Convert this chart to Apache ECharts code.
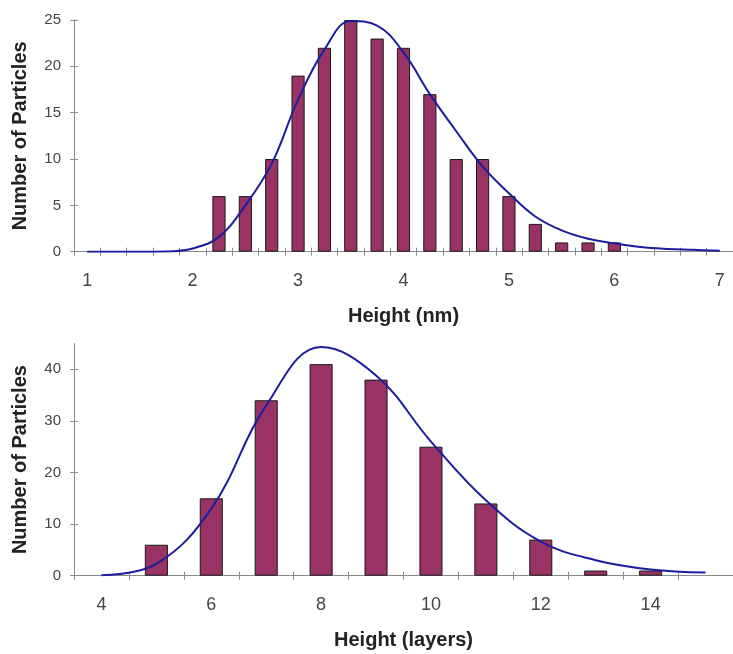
<!DOCTYPE html>
<html>
<head>
<meta charset="utf-8">
<script src="https://cdn.jsdelivr.net/npm/echarts@6/dist/echarts.min.js"></script>
<style>
html,body{margin:0;padding:0;background:#fff;}
#chart{width:733px;height:654px;}
</style>
</head>
<body>
<div id="chart"></div>
<script>
// ---- Data ----
const topCategories = ['1','1.25','1.5','1.75','2','2.25','2.5','2.75','3','3.25','3.5','3.75','4','4.25','4.5','4.75','5','5.25','5.5','5.75','6','6.25','6.5','6.75','7'];
const topCounts = [0,0,0,0,0,6,6,10,19,22,25,23,22,17,10,10,6,3,1,1,1,0,0,0,0];
const topFit = [0,0,0,0.02,0.35,1.6,5.0,9.5,16.4,21.8,24.9,24.4,21.5,17.0,13.0,9.2,6.3,3.8,2.3,1.4,0.9,0.5,0.3,0.2,0.1];
const topYTicks = [0,5,10,15,20,25];

const bottomCategories = ['4','5','6','7','8','9','10','11','12','13','14','15'];
const bottomCounts = [0,6,15,34,41,38,25,14,7,1,1,0];
const bottomFit = [0.1,2.3,13.0,33.0,44.3,38.8,26.0,14.6,6.6,3.0,1.2,0.6];
const bottomYTicks = [0,10,20,30,40];

const topXTitle = 'Height (nm)';
const bottomXTitle = 'Height (layers)';
const yTitle = 'Number of Particles';

// ---- Styles ----
const FONT = "'Liberation Sans', Arial, sans-serif";
const AXIS_COLOR = '#8a8a8a';
const LABEL_COLOR = '#454545';
const TITLE_COLOR = '#222222';
const BAR_COLOR = '#993366';
const LINE_COLOR = '#1c1c9e';

const hideZero = arr => arr.map(v => (v === 0 ? null : v));

function xMain(grid, data, interval, name) {
  return {
    gridIndex: grid, type: 'category', data: data, boundaryGap: true, position: 'bottom',
    axisLine: { show: true, lineStyle: { color: AXIS_COLOR, width: 1 } },
    axisTick: { show: true, interval: 0, alignWithLabel: false, length: 4, inside: false, lineStyle: { color: AXIS_COLOR } },
    axisLabel: { interval: interval, fontSize: 18, color: LABEL_COLOR, fontFamily: FONT, margin: 20 },
    splitLine: { show: false },
    name: name, nameLocation: 'middle', nameGap: 55,
    nameTextStyle: { fontSize: 20, fontWeight: 'bold', color: TITLE_COLOR, fontFamily: FONT }
  };
}
function xHelper(grid, data) {
  return {
    gridIndex: grid, type: 'category', data: data, boundaryGap: true, position: 'bottom', offset: 0,
    axisLine: { show: false },
    axisTick: { show: true, interval: 0, alignWithLabel: false, length: 4, inside: true, lineStyle: { color: AXIS_COLOR } },
    axisLabel: { show: false }, splitLine: { show: false }
  };
}
function yMain(grid, max, ticks) {
  return {
    gridIndex: grid, type: 'value', min: 0, max: max, position: 'left',
    axisLine: { show: true, lineStyle: { color: AXIS_COLOR, width: 1 } },
    axisTick: { show: true, length: 4, inside: false, customValues: ticks, lineStyle: { color: AXIS_COLOR } },
    axisLabel: { fontSize: 15, color: LABEL_COLOR, fontFamily: FONT, margin: 13, customValues: ticks },
    splitLine: { show: false },
    name: yTitle, nameLocation: 'middle', nameGap: 44,
    nameTextStyle: { fontSize: 20, fontWeight: 'bold', color: TITLE_COLOR, fontFamily: FONT }
  };
}
function yHelper(grid, max, ticks) {
  return {
    gridIndex: grid, type: 'value', min: 0, max: max, position: 'left', offset: 0,
    axisLine: { show: false },
    axisTick: { show: true, length: 4, inside: true, customValues: ticks, lineStyle: { color: AXIS_COLOR } },
    axisLabel: { show: false, customValues: ticks }, splitLine: { show: false }
  };
}

const chart = echarts.init(document.getElementById('chart'), null, { renderer: 'canvas' });
chart.setOption({
  backgroundColor: '#ffffff',
  animation: false,
  textStyle: { fontFamily: FONT },
  grid: [
    { left: 74, top: 20, width: 662.5, height: 231.7 },
    { left: 74, top: 343.5, width: 666, height: 232.2 }
  ],
  xAxis: [
    xMain(0, topCategories, 3, topXTitle),
    xHelper(0, topCategories),
    xMain(1, bottomCategories, 1, bottomXTitle),
    xHelper(1, bottomCategories)
  ],
  yAxis: [
    yMain(0, 25, topYTicks),
    yHelper(0, 25, topYTicks),
    yMain(1, 45, bottomYTicks),
    yHelper(1, 45, bottomYTicks)
  ],
  series: [
    { type: 'bar', xAxisIndex: 0, yAxisIndex: 0, data: hideZero(topCounts), barWidth: '50%',
      itemStyle: { color: BAR_COLOR, borderColor: '#1a1a1a', borderWidth: 1 }, z: 2 },
    { type: 'line', xAxisIndex: 0, yAxisIndex: 0, data: topFit, smooth: 0.4, showSymbol: false, symbol: 'none',
      lineStyle: { color: LINE_COLOR, width: 2 }, z: 3 },
    { type: 'bar', xAxisIndex: 2, yAxisIndex: 2, data: hideZero(bottomCounts), barWidth: '42%',
      itemStyle: { color: BAR_COLOR, borderColor: '#1a1a1a', borderWidth: 1 }, z: 2 },
    { type: 'line', xAxisIndex: 2, yAxisIndex: 2, data: bottomFit, smooth: 0.4, showSymbol: false, symbol: 'none',
      lineStyle: { color: LINE_COLOR, width: 2 }, z: 3 }
  ]
});
</script>
</body>
</html>
